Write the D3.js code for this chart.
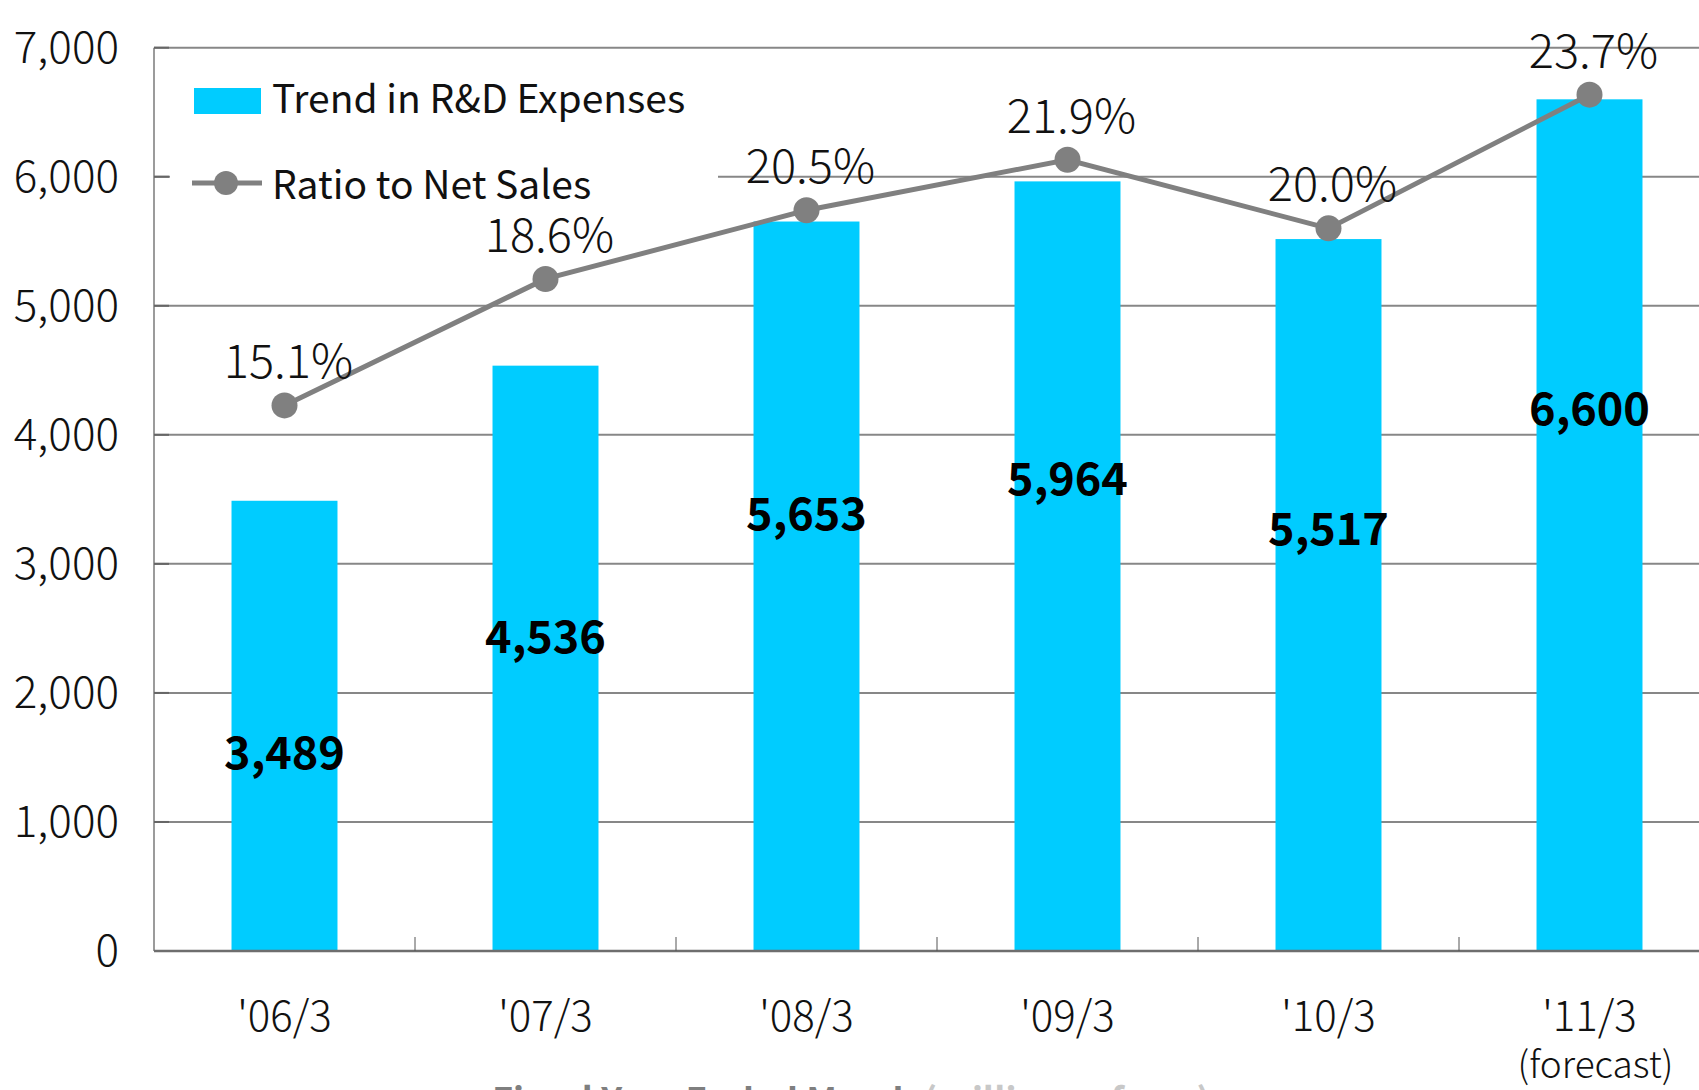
<!DOCTYPE html>
<html>
<head>
<meta charset="utf-8">
<script src="https://cdn.jsdelivr.net/npm/d3@7"></script>
<style>
  body { margin: 0; background: #fff; }
  svg { display: block; }
  text { font-family: "Noto Sans CJK JP", "Noto Sans", sans-serif; }
</style>
</head>
<body>
<div id="chart"></div>
<script>
// fiscal years (R&D expenses, millions of yen) and ratio to net sales (%)
var years = ["'06/3", "'07/3", "'08/3", "'09/3", "'10/3", "'11/3"];
var expenses = [3489, 4536, 5653, 5964, 5517, 6600];
var ratios = [15.1, 18.6, 20.5, 21.9, 20.0, 23.7];
var yTicks = [0, 1000, 2000, 3000, 4000, 5000, 6000, 7000];

var W = 1699, H = 1090;
var plotLeft = 154, plotTop = 47.7, base = 951;
var step = 261;
var plotRight = plotLeft + step * years.length;

var svg = d3.select("#chart")
	.append("svg")
	.attr("width", W)
	.attr("height", H);

var x = d3.scaleBand()
	.domain(years)
	.range([plotLeft, plotRight])
	.paddingInner(0.594)
	.paddingOuter(0.297);

var y = d3.scaleLinear().domain([0, 7000]).range([base, plotTop]);
// hidden secondary axis for the ratio line
var y2 = d3.scaleLinear().domain([0, 25]).range([base, plotTop]);

// gridlines
svg.append("g")
	.selectAll("line")
	.data(yTicks.filter(function(d) { return d > 0; }))
	.enter()
	.append("line")
	.attr("x1", plotLeft)
	.attr("x2", plotRight)
	.attr("y1", function(d) { return y(d); })
	.attr("y2", function(d) { return y(d); })
	.attr("stroke", "#878787")
	.attr("stroke-width", 2);

// legend sits on a white box that hides the grid behind it
svg.append("rect")
	.attr("x", plotLeft + 16)
	.attr("y", 62)
	.attr("width", 548)
	.attr("height", 150)
	.attr("fill", "#fff");

// left axis line and inward ticks
svg.append("line")
	.attr("x1", plotLeft).attr("x2", plotLeft)
	.attr("y1", plotTop).attr("y2", base)
	.attr("stroke", "#7a7a7a")
	.attr("stroke-width", 1.5);

svg.append("g")
	.selectAll("line")
	.data(yTicks)
	.enter()
	.append("line")
	.attr("x1", plotLeft)
	.attr("x2", plotLeft + 15)
	.attr("y1", function(d) { return y(d); })
	.attr("y2", function(d) { return y(d); })
	.attr("stroke", "#666")
	.attr("stroke-width", 2);

svg.append("g")
	.selectAll("text")
	.data(yTicks)
	.enter()
	.append("text")
	.attr("x", 119)
	.attr("y", function(d) { return y(d) + 15; })
	.attr("text-anchor", "end")
	.attr("font-size", "44px")
	.attr("font-weight", 300)
	.attr("fill", "#111")
	.text(d3.format(","));

// bars
svg.append("g")
	.selectAll("rect")
	.data(expenses)
	.enter()
	.append("rect")
	.attr("x", function(d, i) { return x(years[i]); })
	.attr("y", function(d) { return y(d); })
	.attr("width", x.bandwidth())
	.attr("height", function(d) { return base - y(d); })
	.attr("fill", "#00ccff");

// baseline and category separators
svg.append("line")
	.attr("x1", plotLeft).attr("x2", plotRight)
	.attr("y1", base).attr("y2", base)
	.attr("stroke", "#6e6e6e")
	.attr("stroke-width", 2.5);

svg.append("g")
	.selectAll("line")
	.data(years.slice(1))
	.enter()
	.append("line")
	.attr("x1", function(d) { return x(d) - x.step() * x.paddingInner() / 2; })
	.attr("x2", function(d) { return x(d) - x.step() * x.paddingInner() / 2; })
	.attr("y1", base)
	.attr("y2", base - 14)
	.attr("stroke", "#555")
	.attr("stroke-width", 1);

// value labels inside the bars
svg.append("g")
	.selectAll("text")
	.data(expenses)
	.enter()
	.append("text")
	.attr("x", function(d, i) { return x(years[i]) + x.bandwidth() / 2; })
	.attr("y", function(d) { return y(d * 0.858 - 1462) + 16; })
	.attr("text-anchor", "middle")
	.attr("font-size", "45px")
	.attr("font-weight", "bold")
	.attr("fill", "#000")
	.text(d3.format(","));

// ratio line
var cx = function(d, i) { return x(years[i]) + x.bandwidth() / 2; };

svg.append("path")
	.datum(ratios)
	.attr("d", d3.line().x(cx).y(function(d) { return y2(d); }))
	.attr("fill", "none")
	.attr("stroke", "#808080")
	.attr("stroke-width", 5);

svg.append("g")
	.selectAll("circle")
	.data(ratios)
	.enter()
	.append("circle")
	.attr("cx", cx)
	.attr("cy", function(d) { return y2(d); })
	.attr("r", 13)
	.attr("fill", "#808080");

svg.append("g")
	.selectAll("text")
	.data(ratios)
	.enter()
	.append("text")
	.attr("x", function(d, i) { return cx(d, i) + 4; })
	.attr("y", function(d) { return y2(d) - 27; })
	.attr("text-anchor", "middle")
	.attr("font-size", "47px")
	.attr("font-weight", 300)
	.attr("fill", "#111")
	.text(function(d) { return d.toFixed(1) + "%"; });

// category labels
svg.append("g")
	.selectAll("text")
	.data(years)
	.enter()
	.append("text")
	.attr("x", function(d) { return x(d) + x.bandwidth() / 2; })
	.attr("y", 1031)
	.attr("text-anchor", "middle")
	.attr("font-size", "42px")
	.attr("font-weight", 300)
	.attr("fill", "#111")
	.text(function(d) { return d; });

svg.append("text")
	.attr("x", x(years[5]) + x.bandwidth() / 2 + 6)
	.attr("y", 1078)
	.attr("text-anchor", "middle")
	.attr("font-size", "37px")
	.attr("font-weight", 300)
	.attr("fill", "#111")
	.text("(forecast)");

// legend
svg.append("rect")
	.attr("x", 194).attr("y", 88)
	.attr("width", 67).attr("height", 26)
	.attr("fill", "#00ccff");
svg.append("text")
	.attr("x", 272).attr("y", 113)
	.attr("font-size", "39px")
	.attr("fill", "#111")
	.text("Trend in R&D Expenses");

svg.append("line")
	.attr("x1", 192).attr("x2", 262)
	.attr("y1", 183).attr("y2", 183)
	.attr("stroke", "#808080")
	.attr("stroke-width", 5);
svg.append("circle")
	.attr("cx", 226).attr("cy", 183)
	.attr("r", 12)
	.attr("fill", "#808080");
svg.append("text")
	.attr("x", 272).attr("y", 199)
	.attr("font-size", "39px")
	.attr("fill", "#111")
	.text("Ratio to Net Sales");

// footer, mostly cut off by the bottom edge
var foot = svg.append("text")
	.attr("x", 492).attr("y", 1114)
	.attr("font-size", "36px")
	.attr("font-weight", "bold")
	.attr("fill", "#7f7f7f");
foot.append("tspan").text("Fiscal Year Ended March ");
foot.append("tspan").attr("fill", "#c8c8c8").text("(millions of yen)");
</script>
</body>
</html>
